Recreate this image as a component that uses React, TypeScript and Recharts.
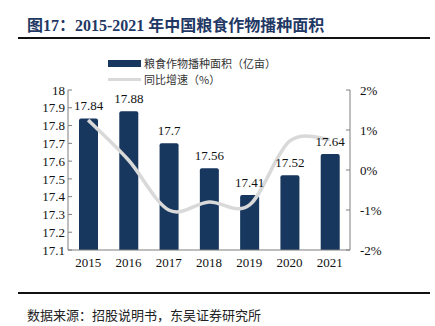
import { ComposedChart, Bar, Line, XAxis, YAxis, Legend, LabelList } from 'recharts';

const years = ['2015', '2016', '2017', '2018', '2019', '2020', '2021'];
const area = [17.84, 17.88, 17.7, 17.56, 17.41, 17.52, 17.64];
const growth = [1.25, 0.25, -1.0, -0.8, -0.88, 0.72, 0.76];
const leftTicks = [17.1, 17.2, 17.3, 17.4, 17.5, 17.6, 17.7, 17.8, 17.9, 18];
const rightTicks = [-2, -1, 0, 1, 2];

const BAR_COLOR = '#17375e';
const LINE_COLOR = '#d9d9d9';
const SERIF = '"Liberation Serif", "Times New Roman", serif';
const CJK = '"Noto Sans CJK SC", sans-serif';

const data = years.map((y, i) => ({ year: y, area: area[i], growth: growth[i] }));

// excel-style smoothed line (catmull-rom through the scaled points)
function smoothCurve(ctx: any) {
  let pts: number[][] = [];
  return {
    areaStart() {},
    areaEnd() {},
    lineStart() { pts = []; },
    point(x: number, y: number) { pts.push([+x, +y]); },
    lineEnd() {
      if (!pts.length) return;
      ctx.moveTo(pts[0][0], pts[0][1]);
      for (let i = 0; i < pts.length - 1; i++) {
        const p0 = pts[i - 1] ?? pts[i];
        const p1 = pts[i];
        const p2 = pts[i + 1];
        const p3 = pts[i + 2] ?? pts[i + 1];
        ctx.bezierCurveTo(
          p1[0] + (p2[0] - p0[0]) / 6, p1[1] + (p2[1] - p0[1]) / 6,
          p2[0] - (p3[0] - p1[0]) / 6, p2[1] - (p3[1] - p1[1]) / 6,
          p2[0], p2[1],
        );
      }
    },
  };
}

function LegendBox() {
  return (
    <div style={{ height: 35, paddingLeft: 108, fontFamily: CJK, fontSize: 11, color: '#333', lineHeight: '16px' }}>
      <div style={{ display: 'flex', alignItems: 'center', height: 16, marginTop: 1 }}>
        <span style={{ width: 33, height: 7, background: BAR_COLOR, marginRight: 3 }} />
        <span>粮食作物播种面积（亿亩）</span>
      </div>
      <div style={{ display: 'flex', alignItems: 'center', height: 16 }}>
        <span style={{ width: 33, height: 3, background: LINE_COLOR, marginRight: 3 }} />
        <span>同比增速（%）</span>
      </div>
    </div>
  );
}

export default function App() {
  return (
    <div style={{ position: 'absolute', left: 0, top: 0, width: 435, height: 326, background: '#fff' }}>
      <div style={{ position: 'absolute', left: 27, top: 12, fontFamily: `"Liberation Serif", ${CJK}`, fontWeight: 'bold', fontSize: 16, color: '#1f3864', whiteSpace: 'nowrap' }}>
        图17：2015-2021 年中国粮食作物播种面积
      </div>
      <div style={{ position: 'absolute', left: 18, top: 37, width: 412, height: 2, background: '#111' }} />

      <div style={{ position: 'absolute', left: 0, top: 50 }}>
        <ComposedChart width={435} height={230} data={data} margin={{ top: 4, right: 20, bottom: 0, left: 0 }}
          style={{ fontFamily: SERIF }}>
          <Legend verticalAlign="top" align="left" content={<LegendBox />} />
          <XAxis dataKey="year" tickLine={false} stroke="#7f7f7f" height={30}
            tick={{ fill: '#111', fontSize: 13, fontFamily: SERIF }} />
          <YAxis yAxisId="left" domain={[17.1, 18]} ticks={leftTicks} width={68} stroke="#7f7f7f"
            tickSize={-4} tickMargin={7} interval={0}
            tick={{ fill: '#111', fontSize: 13, fontFamily: SERIF }} />
          <YAxis yAxisId="right" orientation="right" domain={[-2, 2]} ticks={rightTicks} width={65}
            stroke="#7f7f7f" tickSize={-4} tickMargin={14} interval={0}
            tickFormatter={(v: number) => `${v}%`}
            tick={{ fill: '#111', fontSize: 13, fontFamily: SERIF, textAnchor: 'start' }} />
          <Bar yAxisId="left" dataKey="area" fill={BAR_COLOR} barSize={19} radius={[2, 2, 0, 0]} isAnimationActive={false}>
            <LabelList dataKey="area" position="top" offset={8} fill="#111" fontSize={13} fontFamily={SERIF} />
          </Bar>
          <Line yAxisId="right" dataKey="growth" type={smoothCurve as any} stroke={LINE_COLOR} strokeWidth={3.5}
            dot={false} activeDot={false} isAnimationActive={false} />
        </ComposedChart>
      </div>

      <div style={{ position: 'absolute', left: 18, top: 292, width: 412, height: 2, background: '#111' }} />
      <div style={{ position: 'absolute', left: 27, top: 306, fontFamily: CJK, fontSize: 13, color: '#222', whiteSpace: 'nowrap', lineHeight: '18px' }}>
        数据来源：招股说明书，东吴证券研究所
      </div>
    </div>
  );
}
